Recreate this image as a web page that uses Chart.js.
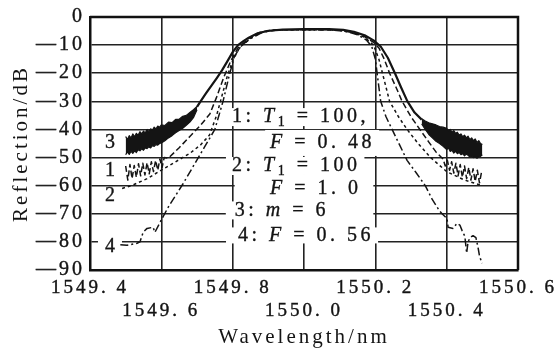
<!DOCTYPE html>
<html><head><meta charset="utf-8">
<script src="https://cdn.jsdelivr.net/npm/chart.js@4.4.0/dist/chart.umd.min.js"></script>
<style>html,body{margin:0;padding:0;background:#fff;}canvas{display:block}</style>
</head><body>
<canvas id="c" width="554" height="353"></canvas>
<script>
// ---- tick values ----
const xTicks = [1549.4, 1549.6, 1549.8, 1550.0, 1550.2, 1550.4, 1550.6];
const yTicks = [0, -10, -20, -30, -40, -50, -60, -70, -80, -90];

// ---- curve 3 (solid; ripple tails drawn as filled noisy bands) ----
const wl3 = [1549.700,1549.710,1549.725,1549.740,1549.755,1549.770,1549.785,1549.800,1549.815,1549.830,1549.845,1549.870,1549.900,1549.940,1550.000,1550.070,1550.110,1550.140,1550.170,1550.195,1550.215,1550.235,1550.255,1550.272,1550.290,1550.310,1550.330];
const r3  = [-32.0,-30.0,-27.2,-24.5,-21.8,-19.0,-15.8,-12.5,-10.0,-8.6,-7.4,-5.8,-4.9,-4.5,-4.3,-4.3,-4.6,-5.3,-6.5,-8.3,-10.5,-14.5,-20.0,-25.0,-30.0,-34.0,-36.5];
const wl3LeftBand  = [1549.500,1549.505,1549.510,1549.515,1549.520,1549.525,1549.530,1549.535,1549.540,1549.545,1549.550,1549.555,1549.560,1549.565,1549.570,1549.575,1549.580,1549.585,1549.590,1549.595,1549.600,1549.610,1549.620,1549.630,1549.640,1549.650,1549.660,1549.670,1549.680,1549.690,1549.700];
const r3LeftTop    = [-42.5,-43.6,-42.2,-43.0,-41.6,-42.6,-41.4,-42.0,-40.8,-41.6,-40.6,-41.2,-40.0,-40.8,-39.8,-40.2,-39.2,-39.8,-38.8,-39.2,-38.4,-38.6,-37.4,-37.6,-36.4,-36.4,-35.3,-35.0,-34.0,-33.0,-31.8];
const r3LeftBottom = [-49.0,-48.0,-48.9,-47.8,-48.5,-47.6,-48.2,-47.2,-47.6,-46.9,-47.4,-46.6,-46.8,-46.2,-46.6,-45.8,-46.0,-45.4,-45.6,-45.0,-44.8,-44.0,-43.0,-42.2,-41.2,-40.4,-39.6,-38.5,-37.4,-35.8,-33.0];
const wl3RightBand  = [1550.330,1550.340,1550.350,1550.360,1550.370,1550.380,1550.390,1550.400,1550.405,1550.410,1550.415,1550.420,1550.425,1550.430,1550.435,1550.440,1550.445,1550.450,1550.455,1550.460,1550.465,1550.470,1550.475,1550.480,1550.485,1550.490,1550.495,1550.500];
const r3RightTop    = [-36.2,-37.0,-37.6,-38.0,-38.4,-39.0,-39.2,-39.6,-40.4,-40.0,-41.0,-40.4,-41.4,-41.0,-42.0,-41.6,-42.6,-42.0,-43.0,-42.4,-43.6,-43.0,-44.0,-43.4,-44.6,-44.0,-45.0,-45.4];
const r3RightBottom = [-38.0,-40.0,-41.8,-43.0,-44.2,-45.0,-46.0,-47.2,-46.6,-47.8,-47.4,-48.4,-47.8,-48.6,-48.2,-49.0,-48.6,-49.4,-48.8,-49.2,-49.8,-49.6,-50.0,-49.8,-50.2,-49.8,-49.6,-49.0];

// ---- curve 1 (dashed, fine ripple in tails) ----
const wl1 = [1549.500,1549.506,1549.512,1549.518,1549.524,1549.530,1549.536,1549.542,1549.548,1549.554,1549.560,1549.566,1549.572,1549.578,1549.584,1549.590,1549.596,1549.602,1549.608,
  1549.620,1549.650,1549.680,1549.710,1549.736,1549.755,1549.775,1549.795,1549.815,1549.845,1549.875,1549.905,1549.950,1550.050,1550.100,1550.140,1550.170,1550.195,1550.210,1550.225,1550.240,1550.258,1550.275,1550.300,1550.325,1550.350,1550.370,1550.390,
  1550.396,1550.402,1550.408,1550.414,1550.420,1550.426,1550.432,1550.438,1550.444,1550.450,1550.456,1550.462,1550.468,1550.474,1550.480,1550.486,1550.492,1550.498];
const r1 = [-53.0,-58.0,-52.5,-57.5,-52.8,-57.0,-52.2,-56.5,-52.0,-56.2,-51.8,-55.8,-51.5,-55.0,-51.0,-54.5,-50.5,-53.6,-50.0,
  -50.2,-46.5,-42.5,-38.5,-34.5,-28.5,-21.5,-15.5,-11.0,-7.6,-5.5,-4.8,-4.5,-4.5,-4.7,-5.6,-7.0,-9.0,-11.0,-15.0,-20.0,-25.0,-30.0,-35.5,-40.0,-44.5,-48.0,-50.5,
  -53.0,-51.0,-54.5,-51.5,-55.5,-52.0,-56.5,-52.5,-57.0,-53.0,-57.5,-53.5,-58.0,-54.0,-58.5,-54.5,-59.0,-55.0];

// ---- curve 2 (short dashes, smooth) ----
const wl2 = [1549.490,1549.520,1549.560,1549.600,1549.640,1549.680,1549.710,1549.735,1549.755,1549.770,1549.785,1549.800,1549.820,1549.850,1549.880,1549.915,1549.960,1550.040,1550.100,1550.140,1550.170,1550.195,1550.210,1550.220,1550.230,1550.240,1550.265,1550.289,1550.320,1550.355,1550.400,1550.450,1550.500];
const r2 = [-61.0,-59.8,-57.5,-54.5,-51.5,-48.5,-45.5,-42.0,-35.0,-28.0,-21.0,-15.5,-10.8,-7.6,-5.5,-4.7,-4.5,-4.5,-4.7,-5.6,-7.2,-10.0,-15.0,-20.0,-25.0,-30.0,-35.5,-40.0,-45.0,-50.0,-55.0,-58.0,-60.0];

// ---- curve 4 (dash-dot, steepest, wiggly ends) ----
const wl4 = [1549.485,1549.504,1549.532,1549.540,1549.549,1549.560,1549.577,1549.582,1549.602,1549.620,1549.640,1549.660,1549.690,1549.720,1549.750,1549.773,1549.790,1549.805,1549.825,1549.855,1549.885,1549.925,1550.000,1550.080,1550.120,1550.150,1550.175,1550.190,1550.200,1550.205,1550.210,1550.215,1550.230,1550.247,1550.268,1550.289,1550.315,1550.340,1550.360,1550.380,
  1550.387,1550.401,1550.404,1550.418,1550.429,1550.437,1550.443,1550.451,1550.456,1550.460,1550.466,1550.474,1550.482,1550.488,1550.492,1550.499];
const r4 = [-81.0,-81.2,-80.5,-80.0,-76.6,-75.2,-74.8,-76.6,-71.7,-67.5,-63.5,-59.5,-53.0,-46.5,-40.0,-30.0,-21.0,-14.0,-10.0,-7.3,-5.4,-4.6,-4.5,-4.6,-5.2,-6.3,-8.2,-10.5,-15.0,-20.0,-25.0,-30.0,-35.5,-40.0,-45.5,-51.0,-55.5,-60.0,-65.0,-69.0,
  -70.0,-71.7,-74.8,-75.2,-73.4,-74.0,-75.9,-78.0,-84.0,-80.0,-78.4,-77.8,-78.5,-82.0,-85.0,-87.6];

// ---- curve labels and legend text ----
const curveLabels = ['3', '1', '2', '4'];
const curveLabelY = [-44.8, -54.7, -63.5, -81.9];
const curveLabelX = 1549.456;

const SERIF = '"Liberation Serif", "DejaVu Serif", serif';
const INK = '#141414';

function pts(w, r) { return w.map((x, i) => ({ x: x, y: r[i] })); }

const base = { pointRadius: 0, showLine: true, tension: 0, borderColor: INK, borderJoinStyle: 'round' };
const datasets = [
  Object.assign({}, base, { label: '3', data: pts(wl3, r3), borderWidth: 2.2, fill: false }),
  Object.assign({}, base, { label: '3L-top', data: pts(wl3LeftBand, r3LeftTop), borderWidth: 1.2, fill: false }),
  Object.assign({}, base, { label: '3L-bot', data: pts(wl3LeftBand, r3LeftBottom), borderWidth: 1.2, fill: '-1', backgroundColor: INK }),
  Object.assign({}, base, { label: '3R-top', data: pts(wl3RightBand, r3RightTop), borderWidth: 1.2, fill: false }),
  Object.assign({}, base, { label: '3R-bot', data: pts(wl3RightBand, r3RightBottom), borderWidth: 1.2, fill: '-1', backgroundColor: INK }),
  Object.assign({}, base, { label: '1', data: pts(wl1, r1), borderWidth: 1.5, borderDash: [6, 3], fill: false }),
  Object.assign({}, base, { label: '2', data: pts(wl2, r2), borderWidth: 1.5, borderDash: [3, 3], fill: false }),
  Object.assign({}, base, { label: '4', data: pts(wl4, r4), borderWidth: 1.5, borderDash: [8, 3, 2, 3], fill: false })
];

function fmtX(v) { const s = v.toFixed(1); return s.replace('.', '. '); }

// legend segments: [text, style]  style: n normal, i italic, s subscript
const legendLines = [
  { seg: [['1: ', 'n'], ['T', 'i'], ['1', 's'], [' = 100,', 'n']], x: 1549.798, y: -35.6, padL: 6, padV: 9 },
  { seg: [['F', 'i'], [' = 0. 48', 'n']], x: 1549.905, y: -44.8, padL: 5, padV: 13 },
  { seg: [['2: ', 'n'], ['T', 'i'], ['1', 's'], [' = 100', 'n']], x: 1549.798, y: -53.0, padL: 6, padV: 9 },
  { seg: [['F', 'i'], [' = 1. 0', 'n']], x: 1549.905, y: -61.0, padL: 4, padV: 9 },
  { seg: [['3: ', 'n'], ['m', 'i'], [' = 6', 'n']], x: 1549.806, y: -68.8, padL: 9, padV: 9 },
  { seg: [['4: ', 'n'], ['F', 'i'], [' = 0. 56', 'n']], x: 1549.815, y: -77.7, padL: 12, padV: 8 }
];

const LS = '3px';
const LEG_LS = '3.5px';
const FS = 20;

const deco = {
  id: 'deco',
  beforeLayout(chart) { chart.ctx.letterSpacing = LS; },
  beforeDraw(chart) { chart.ctx.letterSpacing = LS; },
  beforeDatasetsDraw(chart) {
    const { ctx, scales: { x, y } } = chart;
    ctx.save();
    ctx.fillStyle = '#fff';
    // blank area between the 1549.8 and 1550.2 grid lines behind the lower legend lines
    const x0 = x.getPixelForValue(1549.8) + 2, x1 = x.getPixelForValue(1550.2) - 2;
    const y0 = y.getPixelForValue(-56), y1 = y.getPixelForValue(-79.3);
    ctx.fillRect(x0, y0, x1 - x0, y1 - y0);
    legendLines.forEach(L => {
      const w = measureLine(ctx, L.seg);
      const lx = x.getPixelForValue(L.x), ly = y.getPixelForValue(L.y);
      ctx.fillRect(lx - L.padL, ly - L.padV, w + L.padL + 4, 2 * L.padV);
    });
    curveLabels.forEach((t, i) => {
      const cx = x.getPixelForValue(curveLabelX), cy = y.getPixelForValue(curveLabelY[i]);
      ctx.fillRect(cx - 12, cy - 7, 24, 14);
    });
    ctx.restore();
  },
  afterDraw(chart) {
    const { ctx, chartArea: a, scales: { x, y } } = chart;
    ctx.save();
    ctx.letterSpacing = LEG_LS;
    ctx.fillStyle = INK;
    ctx.strokeStyle = INK;
    ctx.lineWidth = 0.35;
    ctx.textBaseline = 'middle';
    legendLines.forEach(L => {
      drawLine(ctx, L.seg, x.getPixelForValue(L.x), y.getPixelForValue(L.y));
    });
    ctx.font = FS + 'px ' + SERIF;
    ctx.textAlign = 'center';
    ctx.letterSpacing = '0px';
    curveLabels.forEach((t, i) => {
      const px = x.getPixelForValue(curveLabelX), py = y.getPixelForValue(curveLabelY[i]);
      ctx.fillText(t, px, py); ctx.strokeText(t, px, py);
    });
    ctx.strokeStyle = '#111';
    ctx.lineWidth = 2.5;
    ctx.beginPath();
    ctx.moveTo(a.left, a.top); ctx.lineTo(a.right, a.top); ctx.lineTo(a.right, a.bottom);
    ctx.stroke();
    ctx.restore();
  }
};

function segFont(st) {
  if (st === 'i') return 'italic ' + FS + 'px ' + SERIF;
  if (st === 's') return (FS - 6) + 'px ' + SERIF;
  return FS + 'px ' + SERIF;
}
function measureLine(ctx, seg) {
  let w = 0;
  ctx.save(); ctx.letterSpacing = LEG_LS;
  seg.forEach(([t, st]) => { ctx.font = segFont(st); w += ctx.measureText(t).width; });
  ctx.restore();
  return w;
}
function drawLine(ctx, seg, x0, yc) {
  let xx = x0;
  seg.forEach(([t, st]) => {
    ctx.font = segFont(st);
    ctx.textAlign = 'left';
    const yy = st === 's' ? yc + 5 : yc;
    ctx.fillText(t, xx, yy);
    ctx.strokeText(t, xx, yy);
    xx += ctx.measureText(t).width;
  });
}

new Chart(document.getElementById('c'), {
  type: 'line',
  data: { datasets },
  options: {
    responsive: false, animation: false, devicePixelRatio: 1,
    layout: { padding: { top: 15, right: 36, bottom: 0, left: 0 } },
    plugins: { legend: { display: false }, tooltip: { enabled: false } },
    scales: {
      x: {
        type: 'linear', position: 'bottom', min: 1549.4, max: 1550.6,
        afterBuildTicks: s => { s.ticks = xTicks.map(v => ({ value: v })); },
        afterFit: s => { s.height = 83; s.paddingLeft = 0; s.paddingRight = 0; },
        ticks: {
          autoSkip: false, maxRotation: 0, minRotation: 0, padding: 7, color: INK,
          textStrokeColor: INK, textStrokeWidth: 0.4,
          font: { family: SERIF, size: FS - 1, lineHeight: 1.2 },
          callback: (v, i) => (i % 2 === 0 ? [fmtX(v), ''] : ['', fmtX(v)])
        },
        grid: { color: '#222', lineWidth: 1.6, drawTicks: false },
        border: { display: true, color: '#111', width: 2.5 },
        title: { display: true, text: 'Wavelength/nm', color: INK, font: { family: SERIF, size: FS + 1, lineHeight: 1.2 }, padding: { top: 0, bottom: 3 } }
      },
      y: {
        type: 'linear', min: -90, max: 0,
        afterBuildTicks: s => { s.ticks = yTicks.map(v => ({ value: v })); },
        afterFit: s => { s.width = 90; },
        ticks: {
          padding: 5, color: INK, textStrokeColor: INK, textStrokeWidth: 0.4,
          font: { family: SERIF, size: FS },
          callback: v => (v === 0 ? '0' : '\u2014' + Math.abs(v))
        },
        grid: { color: '#222', lineWidth: 1.6, drawTicks: false },
        border: { display: true, color: '#111', width: 2.5 },
        title: { display: true, text: 'Reflection/dB', color: INK, font: { family: SERIF, size: FS + 1, lineHeight: 1.2 }, padding: { top: 9, bottom: 0 } }
      }
    }
  },
  plugins: [deco]
});
</script>
</body></html>
